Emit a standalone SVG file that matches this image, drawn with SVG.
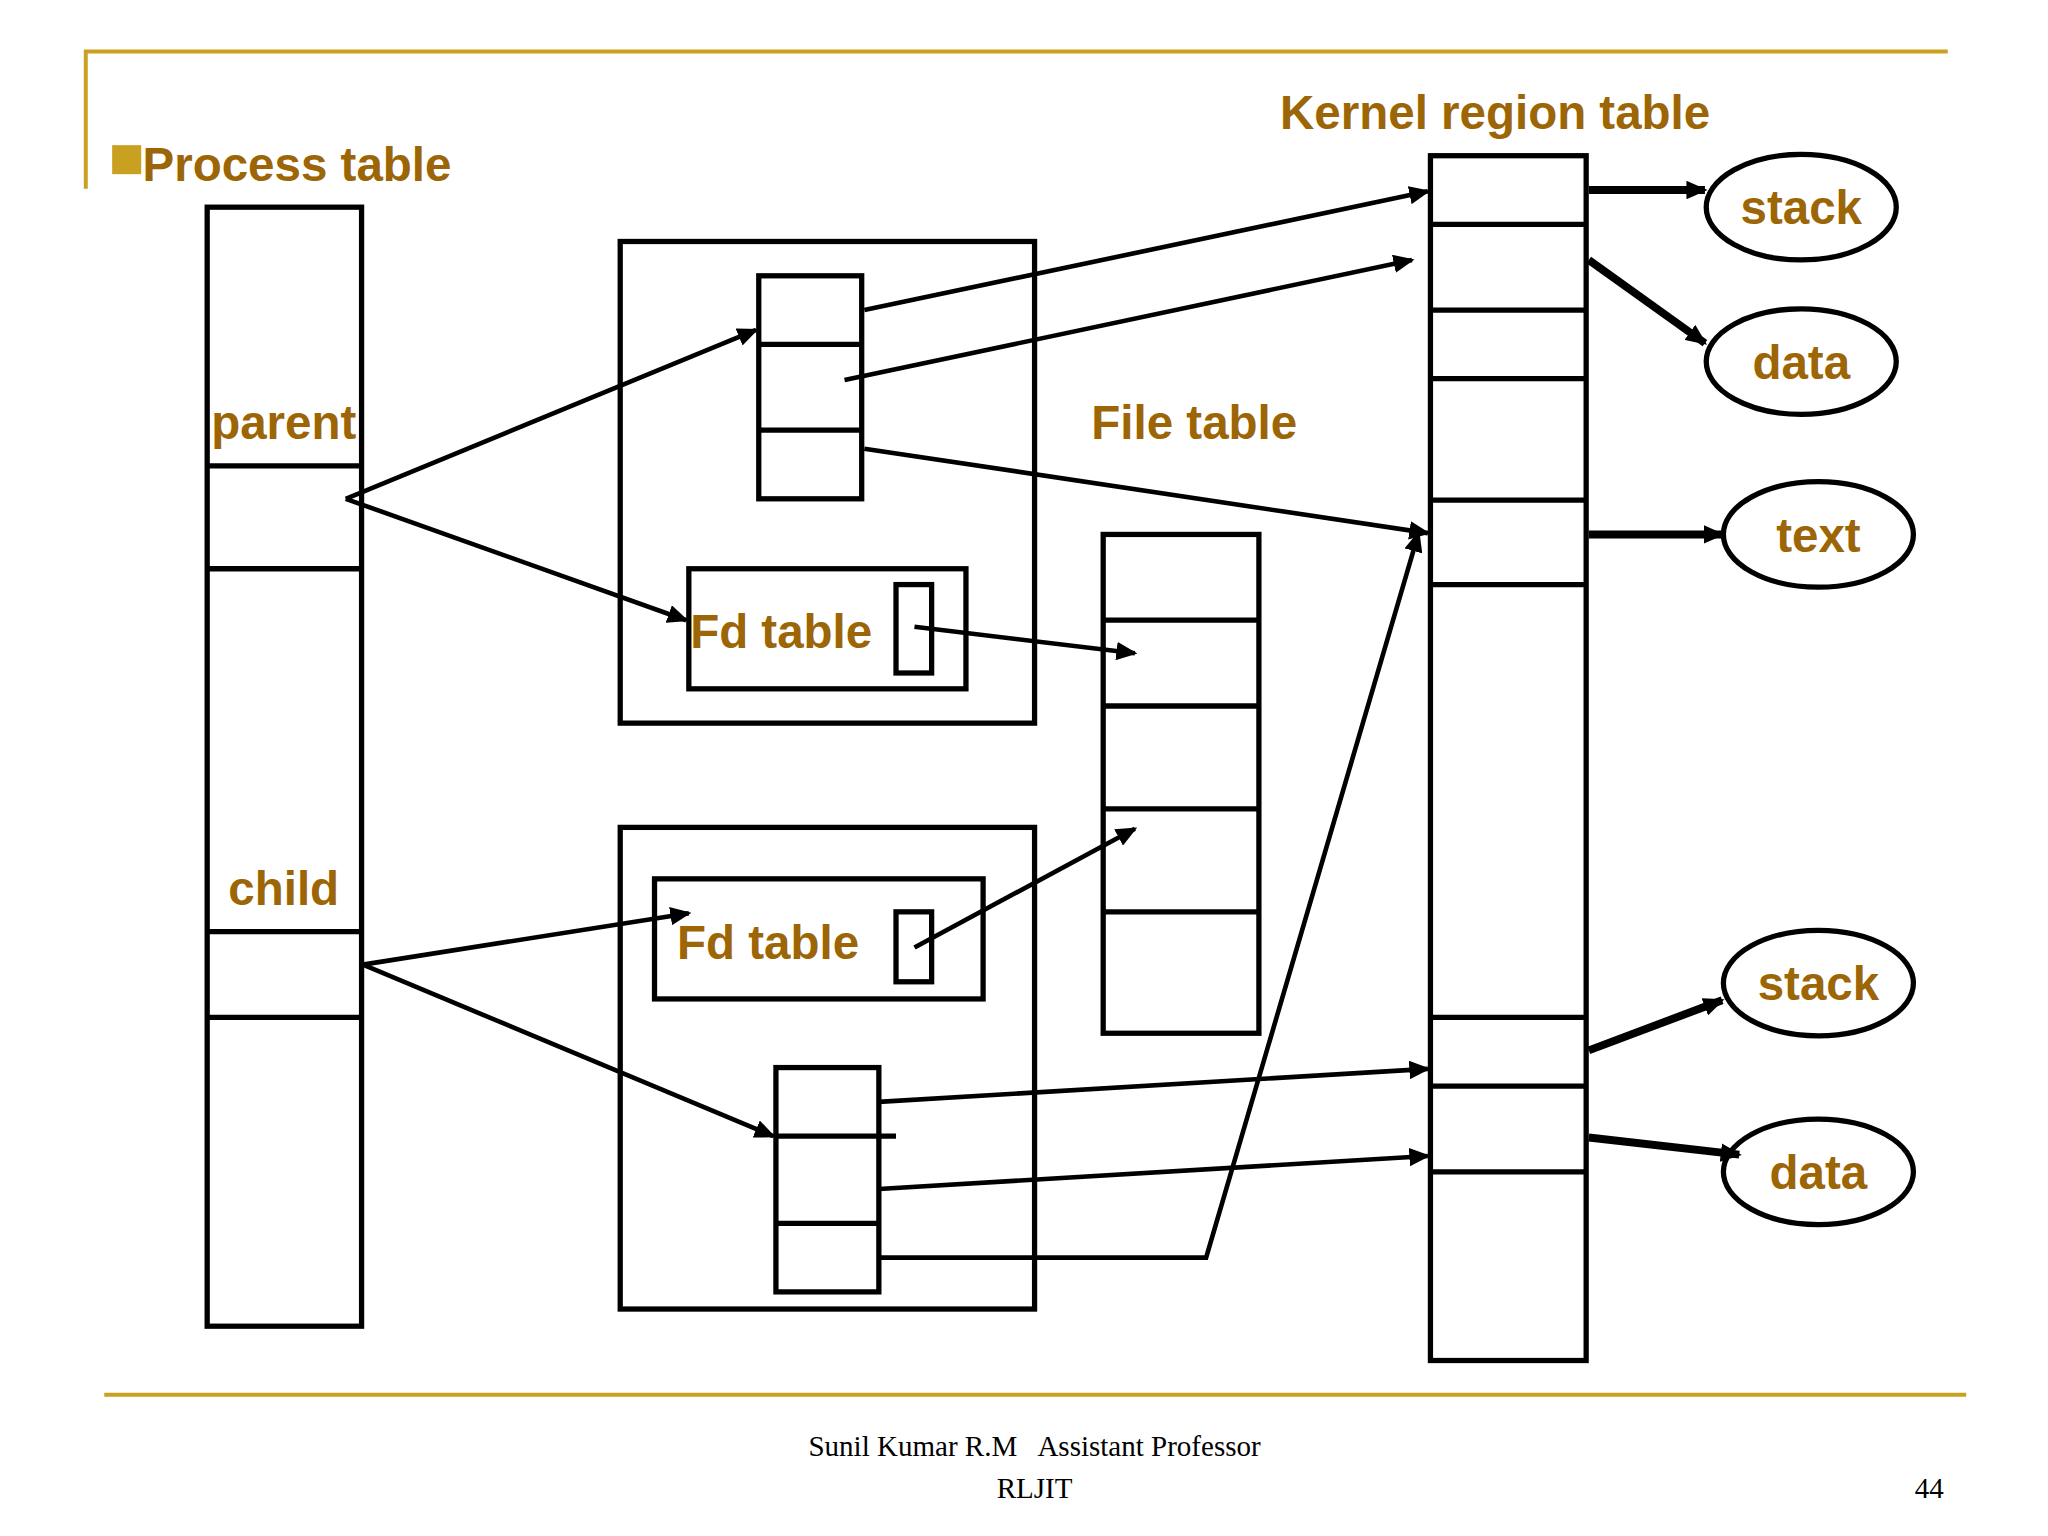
<svg xmlns="http://www.w3.org/2000/svg" width="2048" height="1536" viewBox="0 0 2048 1536">
<defs>
<marker id="ah" markerWidth="8" markerHeight="8" refX="7" refY="4" orient="auto" markerUnits="userSpaceOnUse"><path d="M0,0 L8,4 L0,8 z" fill="#000"/></marker>
<marker id="ahb" markerWidth="16" markerHeight="14" refX="14" refY="7" orient="auto" markerUnits="userSpaceOnUse"><path d="M0,0 L16,7 L0,14 z" fill="#000"/></marker>
<style>
.b{fill:none;stroke:#000;stroke-width:4}
.l{stroke:#000;stroke-width:4}
.c{stroke:#000;stroke-width:3.5;fill:none;marker-end:url(#ahb)}
.t{fill:#9C6505;font-family:"Liberation Sans",Arial,sans-serif;font-weight:bold;font-size:36px}
.f{fill:#000;font-family:"Liberation Serif","Times New Roman",serif;font-size:22px}
.g{stroke:#C9A020;stroke-width:3;fill:none}
</style>
</defs>
<rect width="2048" height="1536" fill="#fff"/>
<g transform="scale(1.3196)">
<g id="frame">
<path class="g" d="M65,143 V39 H1476"/>
<line class="g" x1="79" y1="1057" x2="1490" y2="1057"/>
<rect x="85" y="110" width="22" height="22" fill="#C9A020"/>
<text class="t" x="108" y="137">Process table</text>
<text class="t" x="970" y="98">Kernel region table</text>
<text class="t" x="827" y="333">File table</text>
</g>
<g id="process-table">
<rect class="b" x="157" y="157" width="117" height="848"/>
<line class="l" x1="157" y1="353" x2="274" y2="353"/><line class="l" x1="157" y1="431" x2="274" y2="431"/>
<line class="l" x1="157" y1="706" x2="274" y2="706"/><line class="l" x1="157" y1="771" x2="274" y2="771"/>
<text class="t" x="160" y="333">parent</text>
<text class="t" x="173" y="686">child</text>
</g>
<g id="parent-uarea">
<rect class="b" x="470" y="183" width="314" height="365"/>
<rect class="b" x="575" y="209" width="78" height="169"/>
<line class="l" x1="575" y1="261" x2="653" y2="261"/><line class="l" x1="575" y1="326" x2="653" y2="326"/>
<rect class="b" x="522" y="431" width="210" height="91"/>
<rect class="b" x="679" y="443" width="27" height="67"/>
<text class="t" x="523" y="491">Fd table</text>
</g>
<g id="child-uarea">
<rect class="b" x="470" y="627" width="314" height="365"/>
<rect class="b" x="496" y="666" width="249" height="91"/>
<rect class="b" x="679" y="691" width="27" height="53"/>
<text class="t" x="513" y="727">Fd table</text>
<rect class="b" x="588" y="809" width="78" height="170"/>
<line class="l" x1="588" y1="861" x2="679" y2="861"/><line class="l" x1="588" y1="927" x2="666" y2="927"/>
</g>
<g id="file-table">
<rect class="b" x="836" y="405" width="118" height="378"/>
<line class="l" x1="836" y1="470" x2="954" y2="470"/><line class="l" x1="836" y1="535" x2="954" y2="535"/>
<line class="l" x1="836" y1="613" x2="954" y2="613"/><line class="l" x1="836" y1="691" x2="954" y2="691"/>
</g>
<g id="kernel-region-table">
<rect class="b" x="1084" y="118" width="118" height="913"/>
<line class="l" x1="1084" y1="170" x2="1202" y2="170"/><line class="l" x1="1084" y1="235" x2="1202" y2="235"/>
<line class="l" x1="1084" y1="287" x2="1202" y2="287"/><line class="l" x1="1084" y1="379" x2="1202" y2="379"/>
<line class="l" x1="1084" y1="443" x2="1202" y2="443"/><line class="l" x1="1084" y1="771" x2="1202" y2="771"/>
<line class="l" x1="1084" y1="823" x2="1202" y2="823"/><line class="l" x1="1084" y1="888" x2="1202" y2="888"/>
</g>
<g id="stack1"><ellipse class="b" cx="1365" cy="157" rx="72" ry="40"/><text class="t" x="1365" y="170" text-anchor="middle">stack</text></g>
<g id="data1"><ellipse class="b" cx="1365" cy="274" rx="72" ry="40"/><text class="t" x="1365" y="287" text-anchor="middle">data</text></g>
<g id="text1"><ellipse class="b" cx="1378" cy="405" rx="72" ry="40"/><text class="t" x="1378" y="418" text-anchor="middle">text</text></g>
<g id="stack2"><ellipse class="b" cx="1378" cy="745" rx="72" ry="40"/><text class="t" x="1378" y="758" text-anchor="middle">stack</text></g>
<g id="data2"><ellipse class="b" cx="1378" cy="888" rx="72" ry="40"/><text class="t" x="1378" y="901" text-anchor="middle">data</text></g>
<g id="connectors">
<line class="c" x1="262" y1="378" x2="573" y2="250"/>
<line class="c" x1="262" y1="378" x2="520" y2="470"/>
<line class="c" x1="655" y1="235" x2="1082" y2="145"/>
<line class="c" x1="640" y1="288" x2="1070" y2="197"/>
<line class="c" x1="655" y1="340" x2="1082" y2="404"/>
<line class="c" x1="693" y1="475" x2="860" y2="495"/>
<line class="c" x1="275" y1="731" x2="522" y2="692"/>
<line class="c" x1="275" y1="731" x2="586" y2="861"/>
<line class="c" x1="693" y1="718" x2="860" y2="628"/>
<line class="c" x1="666" y1="835" x2="1082" y2="810"/>
<line class="c" x1="666" y1="901" x2="1082" y2="876"/>
<polyline class="c" points="666,953 914,953 1075,404"/>
<line class="c" x1="1204" y1="144" x2="1292" y2="144" style="stroke-width:6"/>
<line class="c" x1="1204" y1="197" x2="1292" y2="260" style="stroke-width:6"/>
<line class="c" x1="1204" y1="405" x2="1305" y2="405" style="stroke-width:6"/>
<line class="c" x1="1204" y1="796" x2="1305" y2="758" style="stroke-width:6"/>
<line class="c" x1="1204" y1="862" x2="1318" y2="875" style="stroke-width:6"/>
</g>
<g id="footer">
<text class="f" x="784" y="1103" text-anchor="middle" xml:space="preserve">Sunil Kumar R.M   Assistant Professor</text>
<text class="f" x="784" y="1135" text-anchor="middle">RLJIT</text>
<text class="f" x="1462" y="1135" text-anchor="middle">44</text>
</g>
</g>
</svg>
